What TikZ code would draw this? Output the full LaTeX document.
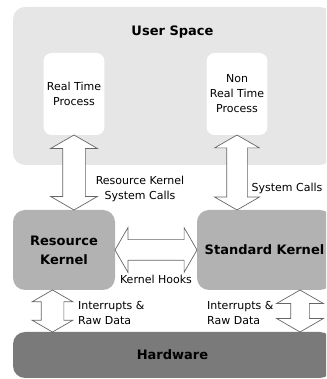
\documentclass[tikz,border=0pt]{standalone}
\usepackage{fontspec}
\setmainfont{DejaVu Sans}
\newfontfamily\headfont{DejaVu Sans}
\usetikzlibrary{shapes.arrows,positioning,calc}
\definecolor{userbg}{HTML}{E6E6E6}
\definecolor{kernelbg}{HTML}{B2B2B2}
\definecolor{hwbg}{HTML}{7A7A7A}
\definecolor{arrowline}{HTML}{666666}
\tikzset{
    area/.style={rectangle, rounded corners=12pt, inner sep=0, align=center},
    proc/.style={rectangle, rounded corners=8pt, fill=white, minimum width=60pt, minimum height=82pt, align=center, font=\fontsize{11}{15}\selectfont},
    head/.style={font=\headfont\bfseries\fontsize{13}{19}\selectfont, align=center},
    note/.style={font=\fontsize{11}{15}\selectfont, align=center, inner sep=0},
    darrow/.style={double arrow, draw=arrowline, fill=white, inner xsep=0, inner ysep=10pt, double arrow head extend=12pt, double arrow tip angle=120, line width=0.7pt},
}
\begin{document}
\begin{tikzpicture}[x=1pt,y=1pt]
    \useasboundingbox (0,0) rectangle (326,379);
    \clip (0,0) rectangle (326,379);

    % areas
    \node[area, fill=userbg, minimum width=319pt, minimum height=158pt] (us) at (172.5,293) {};
    \node[head] (ustitle) at (172.5,347) {User Space};
    \node[proc] (rt) at (74,285) {Real Time\\Process};
    \node[proc] (nrt) at (237,285) {Non\\Real Time\\Process};
    \node[area, head, fill=kernelbg, minimum width=102pt, minimum height=80pt] (rk) at (64,129) {Resource\\Kernel};
    \node[area, head, fill=kernelbg, minimum width=135pt, minimum height=80pt] (sk) at (264.5,129) {Standard Kernel};
    \node[area, head, fill=hwbg, minimum width=319pt, minimum height=46pt] (hw) at (172.5,24) {Hardware};

    % block arrows
    \node[darrow, rotate=90, minimum height=75pt, inner ysep=11pt] (a1) at ($(rt.south)!0.5!(rt.south|-rk.north)$) {};
    \node[darrow, rotate=90, minimum height=75pt] (a2) at ($(nrt.south)!0.5!(nrt.south|-sk.north)$) {};
    \node[darrow, minimum height=82pt] (a3) at ($(rk.east)!0.5!(sk.west)$) {};
    \node[darrow, rotate=90, minimum height=42pt, inner ysep=11pt, double arrow head extend=9pt] (a4) at ($(rk.south)!0.5!(rk.south|-hw.north)+(-11.5,0)$) {};
    \node[darrow, rotate=90, minimum height=42pt, inner ysep=9pt, double arrow head extend=14pt] (a5) at ($(sk.south)!0.5!(sk.south|-hw.north)+(35.5,0)$) {};

    % labels
    \node[note] (rkcalls) at (140,190) {Resource Kernel\\System Calls};
    \node[note] (syscalls) at (287,191) {System Calls};
    \node[note] (hooks) at (156,100) {Kernel Hooks};
    \node[note, align=left, anchor=west] (irqleft) at (78,66.5) {Interrupts \&\\Raw Data};
    \node[note, align=left, anchor=west] (irqright) at (207,66.5) {Interrupts \&\\Raw Data};
\end{tikzpicture}
\end{document}
